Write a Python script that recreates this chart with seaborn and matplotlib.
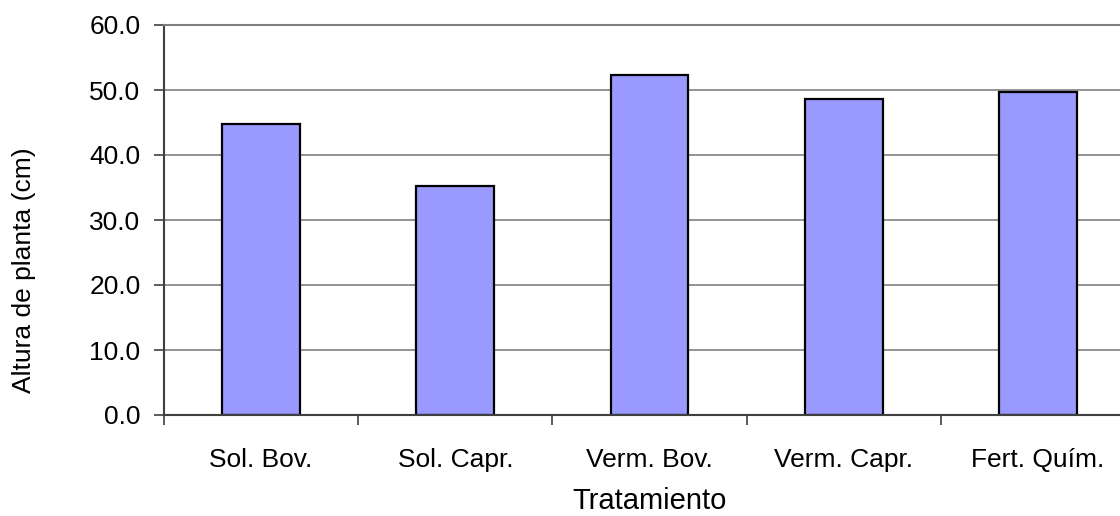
import matplotlib
matplotlib.use("Agg")
import matplotlib.pyplot as plt
import numpy as np
import pandas as pd
import seaborn as sns

tratamientos = ["Sol. Bov.", "Sol. Capr.", "Verm. Bov.", "Verm. Capr.", "Fert. Quím."]
altura = [44.7, 35.3, 52.3, 48.6, 49.7]

df = pd.DataFrame({"tratamiento": tratamientos, "altura": altura})

sns.set_style("white")
plt.rcParams["font.family"] = ["Liberation Sans", "DejaVu Sans"]
plt.rcParams["text.color"] = "black"
plt.rcParams["axes.labelcolor"] = "black"
plt.rcParams["xtick.color"] = "black"
plt.rcParams["ytick.color"] = "black"

fig = plt.figure(figsize=(11.2, 5.16), dpi=100)
ax = fig.add_axes([164 / 1120, 1 - 415 / 516, 971 / 1120, 390 / 516])

sns.barplot(data=df, x="tratamiento", y="altura", color="#9999FF",
            saturation=1, edgecolor="black", linewidth=1.6, width=0.4, ax=ax)

ax.set_xlim(-0.5, 4.5)
ax.set_ylim(0, 60)
ax.set_yticks(np.arange(0, 61, 10))
ax.set_yticklabels([f"{v:.1f}" for v in np.arange(0, 61, 10)], fontsize=19)
ax.yaxis.grid(True, color="#808080", linewidth=1.2)
ax.set_axisbelow(True)

# category labels at centres, tick marks at the boundaries
ax.set_xticks(range(len(tratamientos)))
ax.set_xticklabels(tratamientos, fontsize=19)
ax.set_xticks(np.arange(-0.5, 5, 1), minor=True)
ax.tick_params(axis="x", which="major", length=0, pad=24)
ax.tick_params(axis="x", which="minor", length=7, width=1.2, color="#404040", direction="out", bottom=True)
ax.tick_params(axis="y", length=7, width=1.2, color="#404040", direction="out", left=True, pad=10)

for side in ["left", "bottom"]:
    ax.spines[side].set_color("#404040")
    ax.spines[side].set_linewidth(1.5)
ax.spines["top"].set_color("#808080")
ax.spines["top"].set_linewidth(1.5)
ax.spines["right"].set_visible(False)

ax.set_xlabel("Tratamiento", fontsize=21, labelpad=10.5)
ax.set_ylabel("Altura de planta (cm)", fontsize=19, va="center")
ax.yaxis.set_label_coords((24 - 164) / 971, (415 - 270) / 390)

fig.savefig("out.png", dpi=100)
